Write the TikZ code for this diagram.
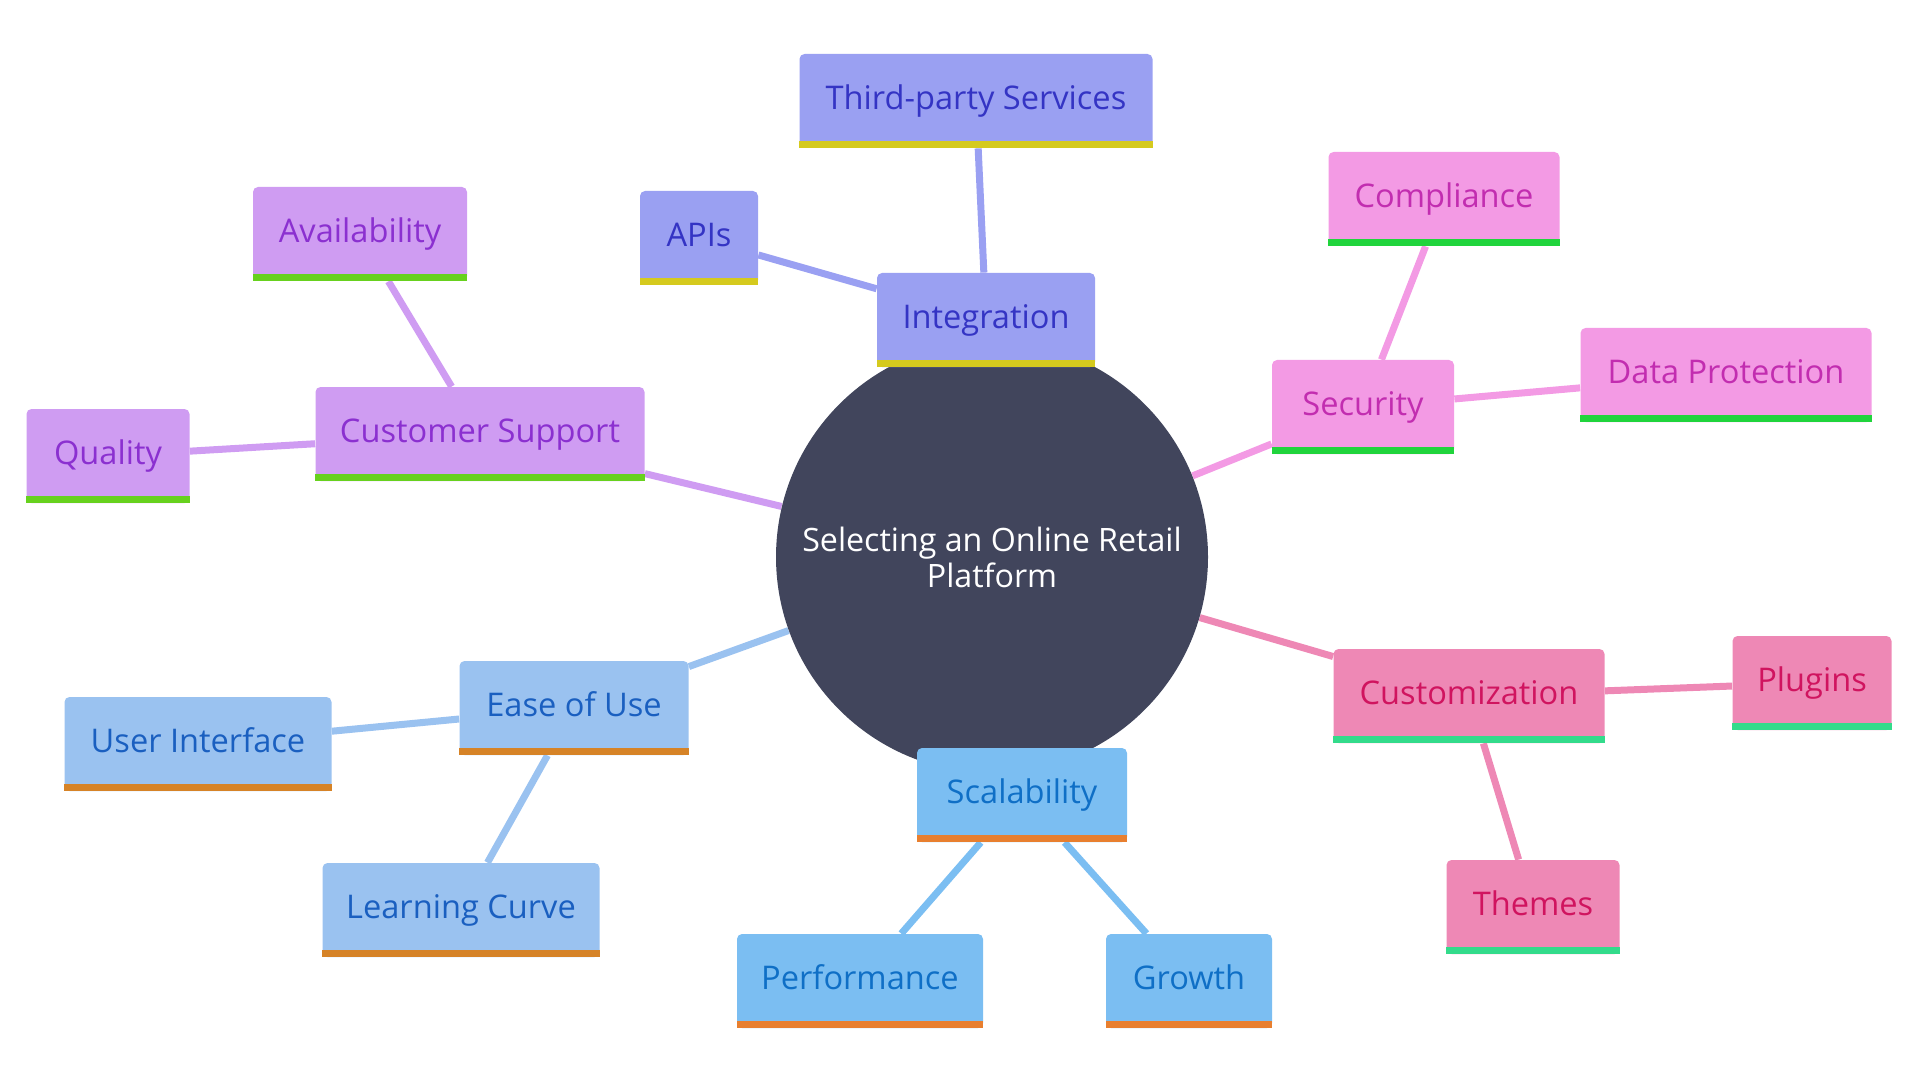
\documentclass[tikz,border=0pt]{standalone}
\usepackage{fontspec}
\setmainfont{Open Sans}
\usetikzlibrary{positioning, backgrounds}
\definecolor{rootfill}{RGB}{65,69,92}
\definecolor{intfill}{RGB}{154,160,242}
\definecolor{inttext}{RGB}{52,52,196}
\definecolor{intbar}{RGB}{213,202,30}
\definecolor{supfill}{RGB}{207,156,242}
\definecolor{suptext}{RGB}{139,48,208}
\definecolor{supbar}{RGB}{103,209,30}
\definecolor{secfill}{RGB}{243,154,228}
\definecolor{sectext}{RGB}{194,45,176}
\definecolor{secbar}{RGB}{32,212,60}
\definecolor{cusfill}{RGB}{238,136,181}
\definecolor{custext}{RGB}{208,20,95}
\definecolor{cusbar}{RGB}{51,219,139}
\definecolor{scafill}{RGB}{123,190,242}
\definecolor{scatext}{RGB}{15,111,198}
\definecolor{scabar}{RGB}{232,127,47}
\definecolor{easfill}{RGB}{154,194,240}
\definecolor{eastext}{RGB}{26,95,192}
\definecolor{easbar}{RGB}{214,131,39}
\tikzset{
  leaf/.style={rectangle, rounded corners=2.5pt, minimum height=47pt, inner sep=0pt, text height=12pt, text depth=3.4pt, font=\fontsize{16.3}{19}\selectfont},
  intbox/.style={leaf, fill=intfill, text=inttext},
  supbox/.style={leaf, fill=supfill, text=suptext},
  secbox/.style={leaf, fill=secfill, text=sectext},
  cusbox/.style={leaf, fill=cusfill, text=custext},
  scabox/.style={leaf, fill=scafill, text=scatext},
  easbox/.style={leaf, fill=easfill, text=eastext},
  branch/.style={line width=3.5pt}
}

\begin{document}
\begin{tikzpicture}[x=0.5pt, y=-0.5pt]
  \useasboundingbox (0,0) rectangle (1920,1080);

  % Centre
  \node[circle, fill=rootfill, minimum size=216pt, inner sep=0pt, text=white, align=center, font=\fontsize{16.1}{18}\selectfont] (root) at (992,557) {Selecting an Online Retail\\Platform};

  % Integration
  \node[intbox, minimum width=109pt] (integ) at (986,320) {Integration};
  \node[intbox, minimum width=176.5pt] (third) at (976,101) {Third-party Services};
  \node[intbox, minimum width=59pt] (apis) at (699,238) {APIs};

  % Customer Support
  \node[supbox, minimum width=164.5pt] (cust) at (480,434) {Customer Support};
  \node[supbox, minimum width=107pt] (avail) at (360,234) {Availability};
  \node[supbox, minimum width=81.5pt] (qual) at (108,456) {Quality};

  % Security
  \node[secbox, minimum width=91pt] (secur) at (1363,407) {Security};
  \node[secbox, minimum width=115.5pt] (compl) at (1444,199) {Compliance};
  \node[secbox, minimum width=145.5pt] (datap) at (1726,375) {Data Protection};

  % Customization
  \node[cusbox, minimum width=135.5pt] (custom) at (1469,696) {Customization};
  \node[cusbox, minimum width=79.5pt] (plug) at (1812,683) {Plugins};
  \node[cusbox, minimum width=86.5pt] (theme) at (1533,907) {Themes};

  % Scalability
  \node[scabox, minimum width=105pt] (scal) at (1022,795) {Scalability};
  \node[scabox, minimum width=123pt] (perf) at (860,981) {Performance};
  \node[scabox, minimum width=83pt] (grow) at (1189,981) {Growth};

  % Ease of Use
  \node[easbox, minimum width=114.5pt] (ease) at (574,708) {Ease of Use};
  \node[easbox, minimum width=133.5pt] (ui) at (198,744) {User Interface};
  \node[easbox, minimum width=138.5pt] (learn) at (461,910) {Learning Curve};

  % bottom bars
  \foreach \n/\c in {integ/intbar, third/intbar, apis/intbar,
                     cust/supbar, avail/supbar, qual/supbar,
                     secur/secbar, compl/secbar, datap/secbar,
                     custom/cusbar, plug/cusbar, theme/cusbar,
                     scal/scabar, perf/scabar, grow/scabar,
                     ease/easbar, ui/easbar, learn/easbar}
    \fill[\c] (\n.south west) rectangle ([yshift=3.5pt]\n.south east);

  % branches
  \begin{scope}[on background layer]
    \draw[branch, intfill] (root) -- (integ) (integ) -- (third) (integ) -- (apis);
    \draw[branch, supfill] (root) -- (cust) (cust) -- (avail) (cust) -- (qual);
    \draw[branch, secfill] (root) -- (secur) (secur) -- (compl) (secur) -- (datap);
    \draw[branch, cusfill] (root) -- (custom) (custom) -- (plug) (custom) -- (theme);
    \draw[branch, scafill] (root) -- (scal) (scal) -- (perf) (scal) -- (grow);
    \draw[branch, easfill] (root) -- (ease) (ease) -- (ui) (ease) -- (learn);
  \end{scope}
\end{tikzpicture}
\end{document}
